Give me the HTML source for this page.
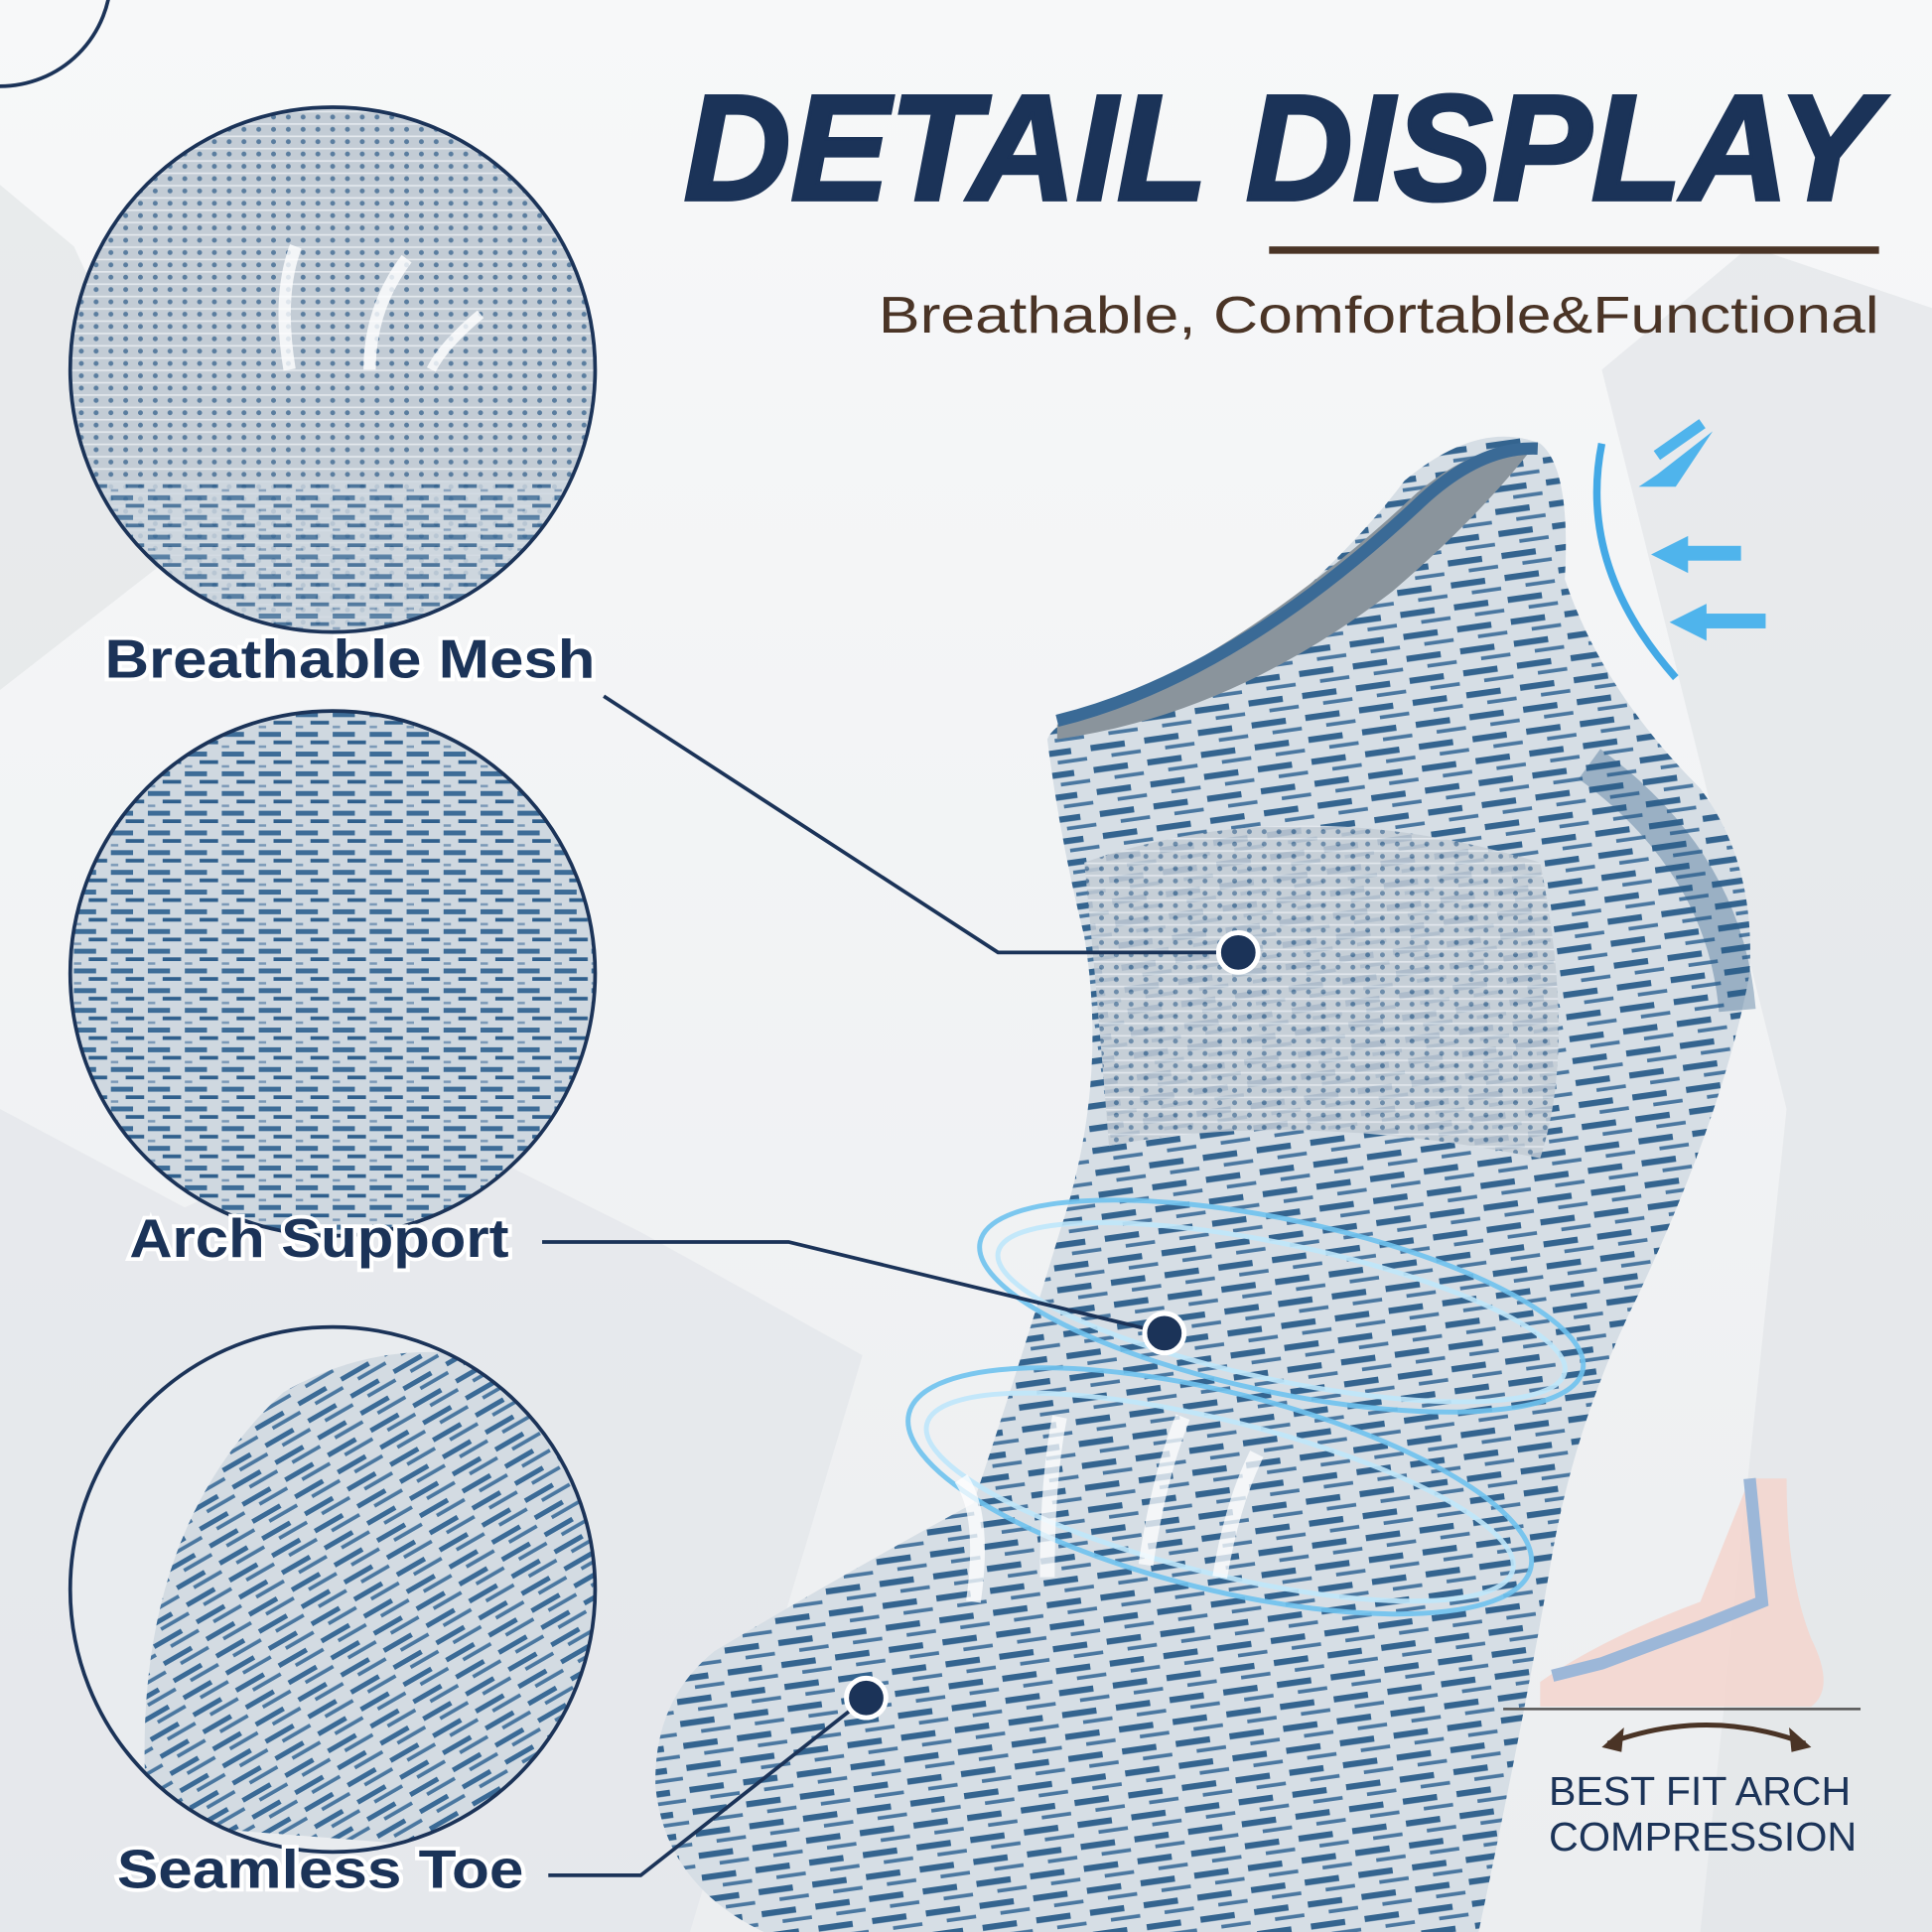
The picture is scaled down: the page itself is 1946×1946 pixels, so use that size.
<!DOCTYPE html>
<html><head><meta charset="utf-8"><style>
html,body{margin:0;padding:0;width:1946px;height:1946px;overflow:hidden;background:#eef0f2}
svg{display:block}
text{font-family:"Liberation Sans",sans-serif}
</style></head><body>
<svg width="1946" height="1946" viewBox="0 0 1568 1568" xmlns="http://www.w3.org/2000/svg">
<defs>
<linearGradient id="bg" x1="0" y1="0" x2="0" y2="1">
<stop offset="0" stop-color="#f7f8f9"/><stop offset="1" stop-color="#eceef0"/>
</linearGradient>
<pattern id="knit" width="30" height="16" patternUnits="userSpaceOnUse">
<rect width="30" height="16" fill="#cfd8e0"/>
<rect y="2" width="18" height="4" fill="#3d6c97"/>
<rect x="12" y="9" width="15" height="3" fill="#2f5f8c"/>
<rect x="0" y="13" width="6" height="2" fill="#7a98b6"/>
</pattern>
<pattern id="mesh" width="12" height="10" patternUnits="userSpaceOnUse">
<rect width="12" height="10" fill="#c3ccd5"/>
<circle cx="6" cy="5" r="2" fill="#5a7d9f"/>
<rect y="0" width="12" height="1.3" fill="#e4e9ee"/>
</pattern>
<pattern id="stripe" width="44" height="18" patternUnits="userSpaceOnUse" patternTransform="rotate(-8)">
<rect width="44" height="18" fill="#d6dee5"/>
<rect y="2" width="28" height="5" fill="#34648f"/>
<rect x="16" y="11" width="24" height="3" fill="#4a77a0"/>
</pattern>
<pattern id="toe" width="40" height="16" patternUnits="userSpaceOnUse" patternTransform="rotate(-30)">
<rect width="40" height="16" fill="#d3dbe2"/>
<rect y="2" width="26" height="4" fill="#3a6a96"/>
<rect x="12" y="9" width="26" height="3" fill="#4a77a0"/>
</pattern>
<clipPath id="c1"><circle cx="270" cy="300" r="213"/></clipPath>
<clipPath id="c2"><circle cx="270" cy="790" r="213"/></clipPath>
<clipPath id="c3"><circle cx="270" cy="1290" r="213"/></clipPath>
</defs>
<rect width="1568" height="1568" fill="url(#bg)"/>
<path d="M0 150 L60 200 L120 330 L180 420 L0 560 Z" fill="#dfe2e5" opacity=".6"/>
<path d="M0 900 L150 980 L320 900 L520 1000 L700 1100 L560 1568 L0 1568 Z" fill="#e3e6e9" opacity=".7"/>
<path d="M1300 300 L1420 200 L1568 250 L1568 1568 L1380 1568 L1450 900 Z" fill="#e0e3e6" opacity=".6"/>
<path d="M0 70 A90 90 0 0 0 90 -20" fill="none" stroke="#1b3358" stroke-width="3"/>
<text x="555" y="162" font-size="122" font-weight="bold" font-style="italic" fill="#1b3358" stroke="#1b3358" stroke-width="3" textLength="968" lengthAdjust="spacingAndGlyphs">DETAIL DISPLAY</text>
<rect x="1030" y="200" width="495" height="6" fill="#4a3426"/>
<text x="713" y="270" font-size="42" fill="#4a3426" textLength="812" lengthAdjust="spacingAndGlyphs">Breathable,   Comfortable&amp;Functional</text>
<g clip-path="url(#c1)"><rect x="50" y="80" width="440" height="440" fill="url(#mesh)"/>
<rect x="50" y="390" width="440" height="130" fill="url(#knit)" opacity=".8"/>
<path d="M235 300 Q225 240 240 200" stroke="#fff" stroke-width="10" fill="none" opacity=".8"/>
<path d="M300 300 Q300 250 330 210" stroke="#fff" stroke-width="10" fill="none" opacity=".8"/>
<path d="M350 300 Q360 280 390 255" stroke="#fff" stroke-width="8" fill="none" opacity=".8"/></g>
<circle cx="270" cy="300" r="213" fill="none" stroke="#1b3358" stroke-width="3"/>
<g clip-path="url(#c2)"><rect x="50" y="570" width="440" height="440" fill="url(#knit)"/></g>
<circle cx="270" cy="790" r="213" fill="none" stroke="#1b3358" stroke-width="3"/>
<g clip-path="url(#c3)"><rect x="50" y="1070" width="440" height="440" fill="#e9ecef"/>
<path d="M120 1480 Q100 1250 230 1130 Q350 1060 500 1140 L500 1510 Z" fill="url(#toe)"/></g>
<circle cx="270" cy="1290" r="213" fill="none" stroke="#1b3358" stroke-width="3"/>
<path d="M850 600 Q860 575 960 560 Q1080 470 1140 390 Q1200 340 1250 360 Q1275 380 1270 470 Q1300 560 1380 640 Q1425 700 1420 790 Q1400 900 1330 1050 Q1280 1150 1260 1260 Q1240 1380 1200 1568 L620 1568 Q540 1530 532 1450 Q530 1380 580 1340 Q680 1280 790 1220 Q830 1100 860 1000 Q900 880 880 760 Q860 680 850 600 Z" fill="url(#stripe)"/>
<path d="M880 700 Q1050 640 1250 700 Q1280 850 1250 940 Q1050 900 900 930 Q890 800 880 700 Z" fill="url(#mesh)" opacity=".85"/>
<path d="M858 588 Q1000 540 1150 400 Q1200 358 1245 362 Q1200 420 1130 480 Q1000 580 858 600 Z" fill="#8a949c"/>
<path d="M858 585 Q1000 550 1150 410 Q1200 362 1248 364" fill="none" stroke="#3a6a96" stroke-width="10"/>
<path d="M1290 620 Q1400 700 1410 820" fill="none" stroke="#2c5b88" stroke-width="30" opacity=".35"/>
<g fill="none" stroke="#6fc3ef" stroke-width="4" opacity=".9">
<ellipse cx="1040" cy="1060" rx="250" ry="70" transform="rotate(12 1040 1060)"/>
<ellipse cx="1040" cy="1065" rx="235" ry="55" transform="rotate(12 1040 1065)" stroke="#bfe7fb"/>
<ellipse cx="990" cy="1210" rx="260" ry="80" transform="rotate(14 990 1210)"/>
<ellipse cx="990" cy="1215" rx="245" ry="62" transform="rotate(14 990 1215)" stroke="#bfe7fb"/>
</g>
<g stroke="#fff" stroke-width="12" fill="none" opacity=".75">
<path d="M790 1300 Q800 1230 780 1200"/><path d="M850 1280 Q850 1200 860 1150"/>
<path d="M930 1270 Q940 1200 960 1150"/><path d="M990 1280 Q1000 1220 1020 1180"/>
</g>
<path d="M1300 360 Q1280 460 1360 550" fill="none" stroke="#43a9e6" stroke-width="6"/>
<g fill="#4fb4ec">
<path d="M1390 350 L1345 385 L1330 395 L1360 395 Z"/><rect x="1345" y="365" width="45" height="9" transform="rotate(-35 1345 370)"/>
<path d="M1340 450 L1370 435 L1370 465 Z"/><rect x="1368" y="443" width="45" height="12"/>
<path d="M1355 505 L1385 490 L1385 520 Z"/><rect x="1383" y="498" width="50" height="12"/>
</g>
<g fill="none" stroke="#1b3358" stroke-width="3">
<polyline points="490,565 810,773 1005,773"/>
<polyline points="440,1008 640,1008 945,1082"/>
<polyline points="445,1522 520,1522 703,1378"/>
</g>
<g fill="#1b3358" stroke="#fff" stroke-width="4">
<circle cx="1005" cy="773" r="16"/><circle cx="945" cy="1082" r="16"/><circle cx="703" cy="1378" r="16"/>
</g>
<g font-size="44" font-weight="bold" fill="#1b3358" stroke="#fff" stroke-width="6" paint-order="stroke">
<text x="85" y="550" textLength="398" lengthAdjust="spacingAndGlyphs">Breathable Mesh</text>
<text x="105" y="1020" textLength="308" lengthAdjust="spacingAndGlyphs">Arch Support</text>
<text x="95" y="1532" textLength="330" lengthAdjust="spacingAndGlyphs">Seamless Toe</text>
</g>
<path d="M1250 1365 Q1300 1330 1380 1300 Q1400 1250 1420 1200 L1450 1200 Q1450 1280 1470 1330 Q1490 1370 1470 1385 L1250 1385 Z" fill="#f3d6cf" opacity=".9"/>
<path d="M1420 1200 L1430 1300 L1380 1320 L1300 1350 L1260 1360" fill="none" stroke="#9cb7d8" stroke-width="10"/>
<line x1="1220" y1="1387" x2="1510" y2="1387" stroke="#555" stroke-width="2"/>
<path d="M1305 1415 Q1385 1385 1465 1415" fill="none" stroke="#4a3426" stroke-width="4"/>
<path d="M1300 1418 L1318 1402 L1316 1422 Z M1470 1418 L1452 1402 L1454 1422 Z" fill="#4a3426"/>
<g font-size="33" fill="#1b3358">
<text x="1257" y="1465" textLength="245" lengthAdjust="spacingAndGlyphs">BEST FIT ARCH</text>
<text x="1257" y="1502" textLength="250" lengthAdjust="spacingAndGlyphs">COMPRESSION</text>
</g>
</svg>
</body></html>
